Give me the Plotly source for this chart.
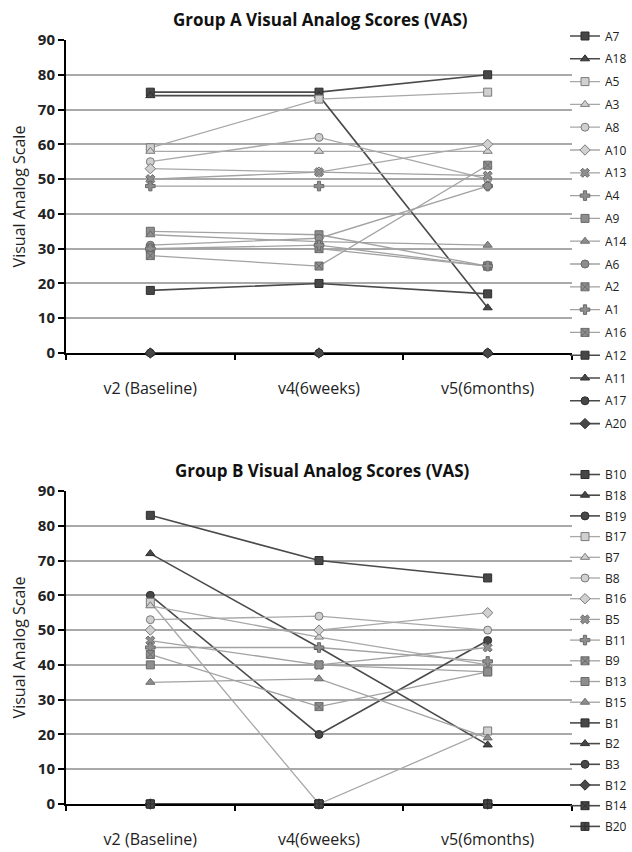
import plotly.graph_objects as go

categories = ["v2 (Baseline)", "v4(6weeks)", "v5(6months)"]

group_a_names = ["A7", "A18", "A5", "A3", "A8", "A10", "A13", "A4", "A9",
                 "A14", "A6", "A2", "A1", "A16", "A12", "A11", "A17", "A20"]
group_a_v2 = [75, 74, 59, 58, 55, 53, 50, 48, 35, 34, 31, 30, 30, 28, 18, 0, 0, 0]
group_a_v4 = [75, 74, 73, 58, 62, 52, 52, 48, 34, 32, 33, 30, 31, 25, 20, 0, 0, 0]
group_a_v5 = [80, 13, 75, 58, 50, 60, 51, 48, 25, 31, 48, 25, 25, 54, 17, 0, 0, 0]

group_b_names = ["B10", "B18", "B19", "B17", "B7", "B8", "B16", "B5", "B11",
                 "B9", "B13", "B15", "B1", "B2", "B3", "B12", "B14", "B20"]
group_b_v2 = [83, 72, 60, 58, 57, 53, 50, 47, 45, 43, 40, 35, 0, 0, 0, 0, 0, 0]
group_b_v4 = [70, 45, 20, 0, 48, 54, 50, 40, 45, 28, 40, 36, 0, 0, 0, 0, 0, 0]
group_b_v5 = [65, 17, 47, 21, 40, 50, 55, 45, 41, 38, 38, 19, 0, 0, 0, 0, 0, 0]

# styles (tone, symbol) per legend position
DARK = dict(line="#4a4a4a", fill="#474747", edge="#2e2e2e", width=1.6)
LIGHT = dict(line="#a8a8a8", fill="#d0d0d0", edge="#7a7a7a", width=1.3)
MID = dict(line="#a2a2a2", fill="#8e8e8e", edge="#6a6a6a", width=1.3)

style_a = [(DARK, "square"), (DARK, "triangle-up"), (LIGHT, "square"), (LIGHT, "triangle-up"),
           (LIGHT, "circle"), (LIGHT, "diamond"), (MID, "x"), (MID, "cross"), (MID, "square"),
           (MID, "triangle-up"), (MID, "circle"), (MID, "square-x"), (MID, "cross"),
           (MID, "square-x"), (DARK, "square"), (DARK, "triangle-up"), (DARK, "circle"),
           (DARK, "diamond")]
style_b = [(DARK, "square"), (DARK, "triangle-up"), (DARK, "circle"), (LIGHT, "square"),
           (LIGHT, "triangle-up"), (LIGHT, "circle"), (LIGHT, "diamond"), (MID, "x"),
           (MID, "cross"), (MID, "square-x"), (MID, "square"), (MID, "triangle-up"),
           (DARK, "square"), (DARK, "triangle-up"), (DARK, "circle"), (DARK, "diamond"),
           (DARK, "square-x"), (DARK, "square-cross")]

fig = go.Figure()


def add_group(names, v2, v4, v5, styles, xa, ya, legend):
    for i, name in enumerate(names):
        tone, sym = styles[i]
        fig.add_trace(go.Scatter(
            x=categories, y=[v2[i], v4[i], v5[i]], name=name,
            mode="lines+markers", xaxis=xa, yaxis=ya, legend=legend,
            legendgroup=legend + name, cliponaxis=False,
            line=dict(color=tone["line"], width=tone["width"]),
            marker=dict(symbol=sym, size=8, color=tone["fill"],
                        line=dict(color=tone["edge"], width=1)),
        ))


add_group(group_a_names, group_a_v2, group_a_v4, group_a_v5, style_a, "x", "y", "legend")
add_group(group_b_names, group_b_v2, group_b_v4, group_b_v5, style_b, "x2", "y2", "legend2")

W, H = 632, 852
xdom = [66 / W, 572 / W]
ydom_a = [(H - 353) / H, (H - 40) / H]
ydom_b = [(H - 804) / H, (H - 491) / H]

FONT = "Open Sans"
xax = dict(type="category", range=[-0.5, 2.5], showline=True, linecolor="black", linewidth=2,
           ticks="outside", tickson="boundaries", ticklen=5, tickcolor="black", tickwidth=2,
           showgrid=False, layer="below traces", ticklabelstandoff=20, automargin=False,
           tickfont=dict(family=FONT, size=16, color="#222"), domain=xdom)
yax = dict(range=[0, 90], dtick=10, showline=True, linecolor="black", linewidth=2,
           ticks="outside", ticklen=6, tickcolor="black", tickwidth=2,
           showgrid=True, gridcolor="#a9a9a9", gridwidth=1.5, zeroline=False,
           layer="below traces", automargin=False,
           tickfont=dict(family=FONT, size=15, color="#222", weight="bold"),
           title=dict(text="Visual Analog Scale", standoff=8,
                      font=dict(family=FONT, size=16, color="#222")))

legend_common = dict(x=565 / W, xanchor="left", yanchor="top", bgcolor="rgba(0,0,0,0)",
                     font=dict(family=FONT, size=12, color="#222"), itemwidth=30,
                     borderwidth=0)

fig.update_layout(
    width=W, height=H, margin=dict(l=0, r=0, t=0, b=0, autoexpand=False),
    paper_bgcolor="white", plot_bgcolor="white",
    xaxis=dict(xax, anchor="y"),
    yaxis=dict(yax, domain=ydom_a, anchor="x"),
    xaxis2=dict(xax, anchor="y2"),
    yaxis2=dict(yax, domain=ydom_b, anchor="x2"),
    legend=dict(legend_common, y=(H - 21.5) / H, tracegroupgap=3.8),
    legend2=dict(legend_common, y=(H - 460) / H, tracegroupgap=1.7),
    annotations=[
        dict(text="Group A Visual Analog Scores (VAS)", x=320 / W, y=(H - 19) / H,
             xref="paper", yref="paper", showarrow=False, xanchor="center", yanchor="middle",
             font=dict(family=FONT, size=17, color="#111", weight="bold")),
        dict(text="Group B Visual Analog Scores (VAS)", x=323 / W, y=(H - 470) / H,
             xref="paper", yref="paper", showarrow=False, xanchor="center", yanchor="middle",
             font=dict(family=FONT, size=17, color="#111", weight="bold")),
    ],
)

fig.write_html("out.html")
